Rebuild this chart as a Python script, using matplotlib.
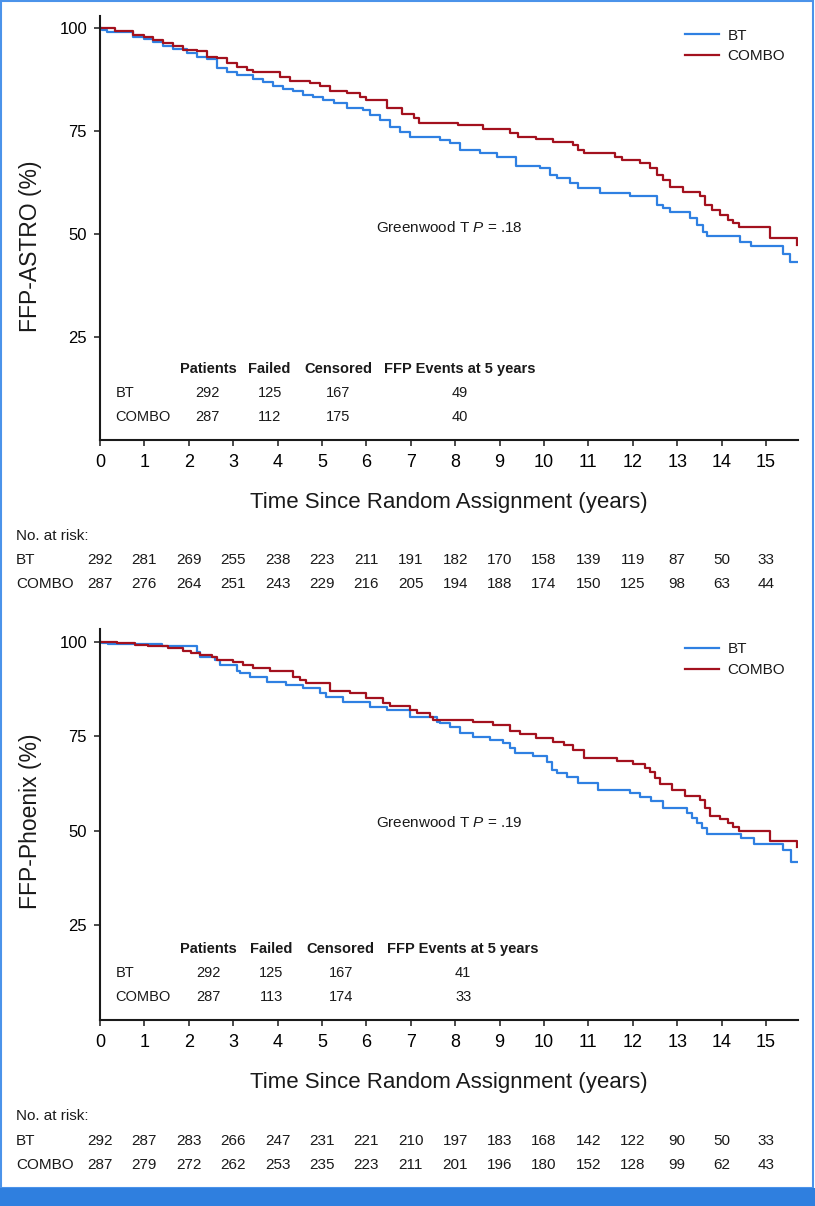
import matplotlib
matplotlib.use('Agg')
from matplotlib import pyplot as plt
from matplotlib.patches import Rectangle
from matplotlib.transforms import blended_transform_factory

plt.rcParams['font.family'] = 'Liberation Sans'
plt.rcParams['mathtext.fontset'] = 'custom'
plt.rcParams['mathtext.rm'] = 'Liberation Sans'
plt.rcParams['mathtext.it'] = 'Liberation Sans:italic'
plt.rcParams['text.color'] = '#1a1a1a'

# Datos (tiempo en anios, supervivencia en %)
astro_bt_t = [0, 0.05, 0.15, 0.75, 0.98, 1.2, 1.43, 1.65, 1.95, 2.18, 2.4, 2.63, 2.86, 3.08,
              3.45, 3.68, 3.9, 4.13, 4.35, 4.58, 4.8, 5.03, 5.26, 5.56, 5.93, 6.08, 6.3, 6.53,
              6.76, 6.98, 7.66, 7.88, 8.11, 8.56, 8.93, 9.38, 9.9, 10.14, 10.29, 10.59, 10.77,
              11.26, 11.94, 12.54, 12.69, 12.84, 13.29, 13.44, 13.59, 13.66, 14.41, 14.67,
              15.38, 15.54, 15.69]
astro_bt_s = [100, 99.6, 99.1, 97.9, 97.3, 96.7, 95.5, 94.8, 93.9, 92.9, 92.4, 90.2, 89.4, 88.6,
              87.5, 86.8, 86.0, 85.2, 84.7, 83.7, 83.2, 82.5, 81.7, 80.5, 80.1, 78.9, 77.7, 76.0,
              74.8, 73.6, 72.8, 72.0, 70.4, 69.6, 68.8, 66.5, 65.9, 64.3, 63.5, 62.3, 61.2,
              59.9, 59.1, 57.0, 56.2, 55.4, 53.8, 52.2, 50.6, 49.4, 48.0, 47.0,
              45.1, 43.1, 43.1]

astro_combo_t = [0, 0.34, 0.75, 0.98, 1.2, 1.43, 1.65, 1.88, 2.18, 2.4, 2.64, 2.86, 3.08, 3.3,
                 3.45, 4.05, 4.28, 4.73, 4.95, 5.18, 5.56, 5.86, 6.0, 6.46, 6.81, 7.07, 7.18,
                 8.07, 8.63, 9.24, 9.42, 9.83, 10.2, 10.66, 10.77, 10.89, 11.6, 11.75, 12.16,
                 12.39, 12.54, 12.69, 12.84, 13.14, 13.51, 13.63, 13.78, 13.96, 14.15, 14.26,
                 14.38, 15.09, 15.69]
astro_combo_s = [100, 99.3, 98.3, 97.7, 97.1, 96.4, 95.5, 94.7, 94.3, 93.0, 92.6, 91.4, 90.6, 89.8,
                 89.2, 88.2, 87.1, 86.6, 85.8, 84.8, 84.2, 83.3, 82.4, 80.5, 79.1, 78.1, 77.0,
                 76.4, 75.5, 74.6, 73.5, 73.0, 72.4, 71.6, 70.4, 69.6, 68.8, 68.0, 67.2,
                 65.9, 64.3, 63.1, 61.5, 60.3, 59.1, 57.0, 55.8, 54.6, 53.4, 52.6,
                 51.6, 49.0, 47.3]

phx_bt_t = [0, 0.05, 0.19, 1.39, 2.18, 2.25, 2.59, 2.7, 3.08, 3.15, 3.38, 3.75, 4.2, 4.58, 4.95,
            5.1, 5.48, 6.08, 6.46, 6.98, 7.58, 7.66, 7.88, 8.11, 8.41, 8.78, 9.08, 9.23, 9.35,
            9.76, 10.06, 10.17, 10.29, 10.51, 10.77, 11.22, 11.94, 12.16, 12.42, 12.69, 13.21,
            13.33, 13.44, 13.56, 13.66, 14.43, 14.73, 15.38, 15.57, 15.69]
phx_bt_s = [100, 99.8, 99.5, 99.0, 97.4, 96.1, 95.1, 93.9, 92.4, 91.7, 90.8, 89.5, 88.6, 87.8, 86.4,
            85.5, 84.2, 82.9, 82.0, 80.1, 78.9, 78.5, 77.6, 76.0, 74.9, 74.1, 73.2, 71.9, 70.7,
            69.8, 68.3, 66.1, 65.3, 64.2, 62.6, 60.8, 60.1, 59.1, 57.8, 56.0, 54.7,
            53.4, 52.0, 50.7, 49.2, 48.1, 46.6, 45.0, 41.7, 41.7]

phx_combo_t = [0, 0.38, 0.79, 1.09, 1.54, 1.88, 2.06, 2.25, 2.52, 2.63, 3.0, 3.23, 3.45, 3.83,
               4.35, 4.5, 4.65, 5.18, 5.63, 6.0, 6.38, 6.53, 6.98, 7.13, 7.43, 7.5, 8.41, 8.86,
               9.23, 9.46, 9.83, 10.21, 10.44, 10.66, 10.89, 11.64, 12.01, 12.27, 12.39, 12.5,
               12.61, 12.88, 13.18, 13.51, 13.63, 13.74, 13.96, 14.15, 14.26, 14.38, 15.09, 15.69]
phx_combo_s = [100, 99.6, 99.2, 98.8, 98.3, 97.7, 97.0, 96.6, 96.0, 95.2, 94.6, 93.9, 93.0, 92.4,
               90.8, 89.9, 89.1, 87.1, 86.4, 85.1, 83.9, 83.1, 82.0, 81.1, 80.0, 79.4, 78.8, 78.0,
               76.5, 75.7, 74.5, 73.6, 72.8, 71.4, 69.4, 68.5, 67.7, 66.6, 65.7, 63.9,
               62.4, 60.8, 59.3, 58.2, 56.0, 54.0, 53.1, 52.0, 51.1, 50.1, 47.4, 45.8]

# Tablas
grupos = ['BT', 'COMBO']
columnas = ['Patients', 'Failed', 'Censored', 'FFP Events at 5 years']
astro_tabla = [[292, 125, 167, 49], [287, 112, 175, 40]]
phx_tabla = [[292, 125, 167, 41], [287, 113, 174, 33]]

anios = list(range(16))
astro_riesgo_bt = [292, 281, 269, 255, 238, 223, 211, 191, 182, 170, 158, 139, 119, 87, 50, 33]
astro_riesgo_combo = [287, 276, 264, 251, 243, 229, 216, 205, 194, 188, 174, 150, 125, 98, 63, 44]
phx_riesgo_bt = [292, 287, 283, 266, 247, 231, 221, 210, 197, 183, 168, 142, 122, 90, 50, 33]
phx_riesgo_combo = [287, 279, 272, 262, 253, 235, 223, 211, 201, 196, 180, 152, 128, 99, 62, 43]

AZUL = '#2f80e2'
ROJO = '#a3111e'
W, H = 815, 1206


def fx(p):
    return p / W


def fy(p):
    return 1 - p / H


fig = plt.figure(figsize=(W / 100, H / 100), dpi=100)


def panel(top, bottom, ytop, ylabel, bt_t, bt_s, co_t, co_s, tabla, col_x, filas_y,
          pval, p_y, leg_y, lab_y, xlab_y, riesgo, riesgo_y):
    ax = fig.add_axes([fx(100), fy(bottom), fx(698), (bottom - top) / H])
    ax.step(bt_t, bt_s, where='post', color=AZUL, lw=1.6, label='BT')
    ax.step(co_t, co_s, where='post', color=ROJO, lw=1.6, label='COMBO')
    ax.set_xlim(0, 15.72)
    ax.set_ylim(0, ytop)
    ax.set_xticks(anios)
    ax.set_yticks([25, 50, 75, 100])
    for s in ['top', 'right']:
        ax.spines[s].set_visible(False)
    for s in ['left', 'bottom']:
        ax.spines[s].set_linewidth(1.5)
        ax.spines[s].set_color('#1a1a1a')
    ax.tick_params(axis='both', direction='out', length=4.3, width=1.1, color='#1a1a1a')
    ax.tick_params(axis='x', labelsize=13, pad=6)
    ax.tick_params(axis='y', labelsize=12, pad=5)

    fig.text(fx(30), fy(lab_y), ylabel, rotation=90, ha='center', va='center', fontsize=16.5)
    fig.text(fx(449), fy(xlab_y), 'Time Since Random Assignment (years)',
             ha='center', va='baseline', fontsize=16)

    ax.legend(loc='upper left', bbox_to_anchor=(0.838, leg_y), frameon=False, borderpad=0,
              borderaxespad=0, handlelength=2.2, handletextpad=0.6, labelspacing=0.45,
              fontsize=11)

    ax.text(6.22, p_y, 'Greenwood T $P$ = ' + pval, ha='left', va='center', fontsize=11)

    # Tabla de eventos
    for c, x in zip(columnas, col_x):
        ax.text(x, filas_y[0], c, ha='center', va='center', fontsize=10.5, fontweight='bold')
    for i, g in enumerate(grupos):
        ax.text(0.35, filas_y[i + 1], g, ha='left', va='center', fontsize=10.5)
        for v, x in zip(tabla[i], col_x):
            ax.text(x, filas_y[i + 1], str(v), ha='center', va='center', fontsize=10.5)

    # Numeros en riesgo
    tr = blended_transform_factory(ax.transData, fig.transFigure)
    fig.text(fx(16), fy(riesgo_y[0]), 'No. at risk:', ha='left', va='center', fontsize=11)
    for i, g in enumerate(grupos):
        fig.text(fx(16), fy(riesgo_y[i + 1]), g, ha='left', va='center', fontsize=11)
        for a, n in zip(anios, riesgo[i]):
            ax.text(a, fy(riesgo_y[i + 1]), str(n), transform=tr, ha='center', va='center',
                    fontsize=11, clip_on=False)
    return ax


panel(16, 440, 102.9, 'FFP-ASTRO (%)', astro_bt_t, astro_bt_s, astro_combo_t, astro_combo_s,
      astro_tabla, [2.43, 3.82, 5.37, 8.1], [17.2, 11.4, 5.6], '.18', 51.5, 0.9705, 246, 508,
      [astro_riesgo_bt, astro_riesgo_combo], [536, 560, 584])

panel(629, 1020, 103.4, 'FFP-Phoenix (%)', phx_bt_t, phx_bt_s, phx_combo_t, phx_combo_s,
      phx_tabla, [2.44, 3.86, 5.42, 8.18], [18.8, 12.4, 6.1], '.19', 52.1, 0.9655, 821, 1088,
      [phx_riesgo_bt, phx_riesgo_combo], [1116, 1141, 1165])

# Marco y barra azul inferior
fig.patches.append(Rectangle((fx(1), fy(1188)), fx(812), (1188 - 1) / H, transform=fig.transFigure,
                             fill=False, edgecolor='#4b93ea', lw=1.5))
fig.patches.append(Rectangle((0, 0), 1, (H - 1188) / H, transform=fig.transFigure,
                             facecolor='#2f7fdf', edgecolor='none'))

fig.savefig('out.png', dpi=100)
